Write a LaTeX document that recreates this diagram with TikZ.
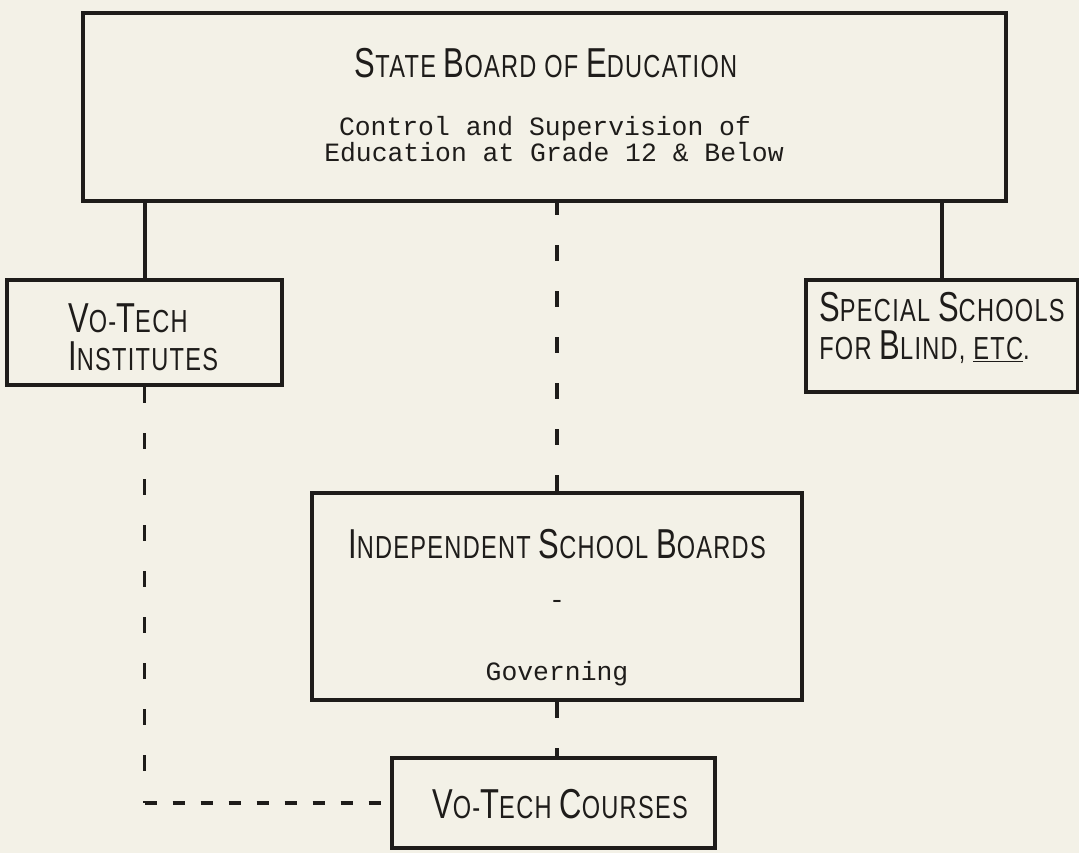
\documentclass[tikz,border=0pt]{standalone}
\usepackage{fontspec}
\setmonofont{Liberation Mono}
\newfontfamily\letterfont[FakeStretch=0.74,LetterSpace=4]{Liberation Sans}
\usetikzlibrary{positioning}
\definecolor{paper}{RGB}{243,241,231}
\definecolor{ink}{RGB}{30,28,26}
% big first letter, rest in small capitals
\newcommand\initcap[2]{{\fontsize{42}{38}\selectfont #1}#2}
\tikzset{
org_box/.style={
	% The shape:
	rectangle,
	% The border:
	line width=4.5bp,
	draw=ink,
	% no text inside, only the frame
	inner sep=0pt
},
title_text/.style={
	anchor=base,
	text=ink,
	inner sep=0pt,
	% lettering guide look
	font=\letterfont\fontsize{32}{38}\selectfont
},
note_text/.style={
	anchor=base,
	text=ink,
	inner sep=0pt,
	% typewriter
	font=\ttfamily\fontsize{26.5}{26.5}\selectfont
},
solid link/.style={line width=4bp, draw=ink},
dash link/.style={line width=3.5bp, draw=ink, dash pattern=on 16bp off 30bp},
short dash link/.style={line width=3.5bp, draw=ink, dash pattern=on 12bp off 16bp}
}

\begin{document}
\begin{tikzpicture}[x=1bp, y=-1bp]
			\fill[paper] (0,0) rectangle (1079,853);
			\useasboundingbox (0,0) rectangle (1079,853);

			% the boxes
			\node[org_box, minimum width=923bp, minimum height=188bp] (sbe) at (544.5,107) {};
			\node[org_box, minimum width=275bp, minimum height=105bp] (vti) at (144.5,332.5) {};
			\node[org_box, minimum width=272bp, minimum height=112bp] (sps) at (942,336) {};
			\node[org_box, minimum width=490bp, minimum height=207bp] (isb) at (557,596.5) {};
			\node[org_box, minimum width=323bp, minimum height=90bp] (vtc) at (553.5,803) {};

			% the texts
			\node[title_text] (sbe_title) at (546,77) {\initcap{S}{TATE} \initcap{B}{OARD} OF \initcap{E}{DUCATION}};
			\node[note_text] (sbe_line1) at (545,135) {Control and Supervision of};
			\node[note_text] (sbe_line2) at (554,161) {Education at Grade 12 \& Below};

			\node[title_text, anchor=west, align=left] (vti_text) at (68,337) {\initcap{V}{O}-\initcap{T}{ECH}\\\initcap{I}{NSTITUTES}};

			\node[title_text, anchor=center, align=left] (sps_text) at (942,328) {\initcap{S}{PECIAL} \initcap{S}{CHOOLS}\\FOR \initcap{B}{LIND}, \underline{ETC}.};

			\node[title_text] (isb_title) at (557,558) {\initcap{I}{NDEPENDENT} \initcap{S}{CHOOL} \initcap{B}{OARDS}};
			\node[note_text] (isb_dash) at (557,608) {-};
			\node[note_text] (isb_line) at (557,680) {Governing};

			\node[title_text] (vtc_title) at (560,818) {\initcap{V}{O}-\initcap{T}{ECH} \initcap{C}{OURSES}};

			% the links
			\draw[solid link] (vti.north) -- (vti.north |- sbe.south);
			\draw[solid link] (sps.north) -- (sps.north |- sbe.south);
			\draw[dash link] (isb.north) -- (isb.north |- sbe.south);
			\draw[dash link] (isb.south) -- (isb.south |- vtc.north);
			\coordinate (corner) at (vti.south |- vtc.west);
			\draw[dash link] (vti.south) -- (corner);
			\draw[short dash link] (corner) -- (vtc.west);
		\end{tikzpicture}
\end{document}
